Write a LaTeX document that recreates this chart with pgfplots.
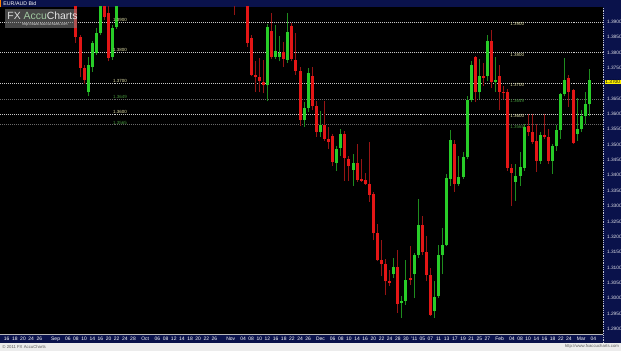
\documentclass[border=0pt]{standalone}
\usepackage{fontspec}
\setmainfont{Liberation Sans}
\usepackage{pgfplots}
\usepackage{pgfplotstable}
\pgfplotsset{compat=1.18}
\definecolor{navy}{RGB}{10,18,75}
\definecolor{strip}{RGB}{236,236,236}
\definecolor{cbodyR}{RGB}{228,22,22}
\definecolor{cwickR}{RGB}{150,20,20}
\definecolor{cbodyG}{RGB}{40,205,40}
\definecolor{cwickG}{RGB}{30,140,30}
\definecolor{lvl}{RGB}{200,200,200}
\definecolor{lvlb}{RGB}{105,105,105}
\definecolor{lbl}{RGB}{230,228,170}
\definecolor{lblg}{RGB}{70,150,60}
\pgfplotstableread{
x O H L C
24 1.3670 1.3787 1.3657 1.3761
25 1.3754 1.3839 1.3738 1.3832
26 1.3800 1.3881 1.3793 1.3864
27 1.3864 1.3997 1.3858 1.3987
30 1.3787 1.3890 1.3777 1.3881
31 1.3884 1.3997 1.3877 1.3987
68 1.3693 1.3894 1.3641 1.3884
70 1.3787 1.3890 1.3780 1.3806
71 1.3787 1.3855 1.3771 1.3800
73 1.3777 1.3929 1.3767 1.3868
77 1.3580 1.3638 1.3557 1.3618
78 1.3618 1.3751 1.3606 1.3732
81 1.3541 1.3609 1.3525 1.3563
85 1.3440 1.3495 1.3415 1.3486
86 1.3489 1.3550 1.3463 1.3534
89 1.3418 1.3470 1.3366 1.3440
99 1.3078 1.3130 1.3065 1.3101
101 1.2984 1.3007 1.2936 1.2991
102 1.2991 1.3123 1.2978 1.3059
104 1.3078 1.3146 1.3000 1.3140
105 1.3140 1.3324 1.3130 1.3237
109 1.2958 1.3055 1.2936 1.3004
110 1.3007 1.3172 1.3000 1.3140
111 1.3140 1.3227 1.3078 1.3172
112 1.3172 1.3405 1.3169 1.3392
113 1.3389 1.3547 1.3366 1.3515
115 1.3372 1.3463 1.3366 1.3395
116 1.3395 1.3476 1.3389 1.3460
117 1.3460 1.3657 1.3453 1.3644
118 1.3644 1.3771 1.3638 1.3761
120 1.3670 1.3780 1.3648 1.3722
122 1.3722 1.3858 1.3706 1.3839
124 1.3703 1.3787 1.3673 1.3709
129 1.3379 1.3437 1.3317 1.3398
130 1.3398 1.3476 1.3366 1.3428
131 1.3424 1.3567 1.3415 1.3557
135 1.3447 1.3541 1.3437 1.3531
138 1.3447 1.3502 1.3405 1.3495
139 1.3495 1.3563 1.3479 1.3547
140 1.3547 1.3667 1.3518 1.3664
141 1.3664 1.3783 1.3657 1.3712
144 1.3534 1.3651 1.3512 1.3550
145 1.3550 1.3612 1.3541 1.3593
146 1.3593 1.3673 1.3567 1.3631
147 1.3631 1.3745 1.3593 1.3709
}\greenc
\pgfplotstableread{
x O H L C
21 1.3987 1.3997 1.3832 1.3851
22 1.3851 1.3858 1.3719 1.3751
23 1.3751 1.3761 1.3699 1.3712
28 1.3987 1.3997 1.3906 1.3916
29 1.3929 1.3955 1.3771 1.3783
60 1.4004 1.4010 1.3923 1.3971
63 1.3965 1.3971 1.3819 1.3832
64 1.3848 1.3858 1.3722 1.3728
65 1.3728 1.3771 1.3673 1.3719
66 1.3719 1.3783 1.3670 1.3706
67 1.3703 1.3777 1.3667 1.3693
69 1.3871 1.3929 1.3780 1.3787
72 1.3803 1.3835 1.3754 1.3780
74 1.3887 1.3897 1.3771 1.3780
75 1.3777 1.3864 1.3728 1.3741
76 1.3741 1.3754 1.3560 1.3580
79 1.3725 1.3754 1.3612 1.3625
80 1.3625 1.3641 1.3525 1.3541
82 1.3563 1.3641 1.3512 1.3518
83 1.3518 1.3557 1.3486 1.3508
84 1.3528 1.3534 1.3431 1.3444
87 1.3534 1.3544 1.3382 1.3457
88 1.3453 1.3463 1.3382 1.3431
90 1.3440 1.3502 1.3379 1.3385
91 1.3389 1.3453 1.3379 1.3382
92 1.3385 1.3408 1.3369 1.3372
93 1.3372 1.3508 1.3314 1.3337
94 1.3340 1.3347 1.3188 1.3211
95 1.3211 1.3240 1.3120 1.3123
96 1.3123 1.3188 1.3072 1.3110
97 1.3110 1.3127 1.3010 1.3055
98 1.3055 1.3091 1.3039 1.3049
100 1.3101 1.3156 1.2952 1.2981
103 1.3065 1.3169 1.3042 1.3059
106 1.3237 1.3269 1.3140 1.3149
107 1.3149 1.3201 1.3055 1.3075
108 1.3075 1.3097 1.2942 1.2945
114 1.3502 1.3515 1.3347 1.3372
119 1.3787 1.3790 1.3638 1.3670
121 1.3725 1.3767 1.3690 1.3716
123 1.3839 1.3874 1.3686 1.3703
125 1.3725 1.3758 1.3612 1.3673
126 1.3673 1.3690 1.3648 1.3670
127 1.3670 1.3680 1.3415 1.3424
128 1.3424 1.3437 1.3301 1.3408
132 1.3560 1.3599 1.3528 1.3541
133 1.3541 1.3599 1.3502 1.3508
134 1.3512 1.3567 1.3411 1.3447
136 1.3531 1.3599 1.3518 1.3525
137 1.3525 1.3550 1.3437 1.3447
142 1.3716 1.3728 1.3622 1.3673
143 1.3677 1.3680 1.3502 1.3505
}\redc
\begin{document}
\begin{tikzpicture}[x=1pt,y=1pt]
\fill[strip] (0,0) rectangle (625,353);
\fill[navy] (0,8) rectangle (625,353);
\fill[orange] (0,346) rectangle (1.2,353);
\node[anchor=west, inner sep=0pt, text=white, font=\fontsize{5.3}{6}\selectfont] at (3,349.6) {EUR/AUD Bid};
\begin{axis}[
  at={(0pt,17pt)}, anchor=south west,
  scale only axis, width=607pt, height=329pt,
  xmin=2.414, xmax=150.43, ymin=1.28838, ymax=1.39485,
  axis background/.style={fill=black},
  axis line style={draw=none},
  major tick length=0pt, tick style={draw=none},
  xtick={4,6,8,10,12,16,19,21,23,25,27,29,31,33,35,38,41,43,45,47,49,51,53,55,59,62,64,66,68,70,72,74,76,78,81,84,86,88,90,92,94,96,98,100,102,104,106,108,110,112,114,116,118,120,122,125,128,130,132,134,136,138,140,142,145,148},
  xticklabels={16,18,20,24,26,Sep,06,08,10,14,16,20,22,24,28,Oct,06,08,12,14,18,20,22,26,Nov,04,08,10,12,16,18,22,24,26,Dec,06,08,10,14,16,20,22,24,28,30,'11,05,07,11,13,17,19,21,25,27,Feb,04,08,10,14,16,18,22,24,Mar,04},
  xticklabel style={font=\fontsize{5}{5}\selectfont, text=white, anchor=base, yshift=-7pt},
  ytick={1.290,1.295,1.300,1.305,1.310,1.315,1.320,1.325,1.330,1.335,1.340,1.345,1.350,1.355,1.360,1.365,1.370,1.375,1.380,1.385,1.390},
  yticklabels={1.2900,1.2950,1.3000,1.3050,1.3100,1.3150,1.3200,1.3250,1.3300,1.3350,1.3400,1.3450,1.3500,1.3550,1.3600,1.3650,,1.3750,1.3800,1.3850,1.3900},
  yticklabel pos=right,
  yticklabel style={font=\fontsize{4.8}{5}\selectfont, text=white!88!navy, anchor=west, xshift=0.3pt},
]
% level lines
\addplot[lvl, line width=0.6pt, dash pattern=on 1pt off 1pt, forget plot] coordinates {(2.414,1.3900) (150.43,1.3900)};
\addplot[lvl, line width=0.6pt, dash pattern=on 1pt off 1pt, forget plot] coordinates {(2.414,1.3800) (150.43,1.3800)};
\addplot[lvl, line width=0.6pt, dash pattern=on 1pt off 1pt, forget plot] coordinates {(2.414,1.3700) (150.43,1.3700)};
\addplot[lvlb, line width=0.6pt, dash pattern=on 1pt off 1pt, forget plot] coordinates {(2.414,1.3649) (150.43,1.3649)};
\addplot[lvl, line width=0.6pt, dash pattern=on 1pt off 1pt, forget plot] coordinates {(2.414,1.3600) (150.43,1.3600)};
\addplot[lvlb, line width=0.6pt, dash pattern=on 1pt off 1pt, forget plot] coordinates {(2.414,1.3565) (150.43,1.3565)};
% wicks
\addplot[draw=none, mark=none, forget plot, error bars/.cd, y dir=plus, y explicit, error mark=none, error bar style={solid, line width=1pt, draw=cwickG}]
  table[x=x, y=L, y error plus expr={\thisrow{H}-\thisrow{L}}] {\greenc};
\addplot[draw=none, mark=none, forget plot, error bars/.cd, y dir=plus, y explicit, error mark=none, error bar style={solid, line width=1pt, draw=cwickR}]
  table[x=x, y=L, y error plus expr={\thisrow{H}-\thisrow{L}}] {\redc};
% bodies
\addplot[draw=none, mark=none, forget plot, error bars/.cd, y dir=plus, y explicit, error mark=none, error bar style={solid, line width=3pt, draw=cbodyG}]
  table[x=x, y=O, y error plus expr={\thisrow{C}-\thisrow{O}}] {\greenc};
\addplot[draw=none, mark=none, forget plot, error bars/.cd, y dir=plus, y explicit, error mark=none, error bar style={solid, line width=3pt, draw=cbodyR}]
  table[x=x, y=C, y error plus expr={\thisrow{O}-\thisrow{C}}] {\redc};
% level labels
\begin{scope}[every node/.style={inner sep=0.4pt, font=\fontsize{4.5}{5}\selectfont}]
\node[anchor=south west, text=lbl] at (axis cs:29.97,1.3900) {1.3900};
\node[anchor=south west, text=lbl] at (axis cs:29.97,1.3800) {1.3800};
\node[anchor=south west, text=lbl] at (axis cs:29.97,1.3700) {1.3700};
\node[anchor=south west, text=lblg] at (axis cs:29.97,1.3649) {1.3649};
\node[anchor=south west, text=lbl] at (axis cs:29.97,1.3600) {1.3600};
\node[anchor=south west, text=lblg] at (axis cs:29.97,1.3565) {1.3565};
\node[anchor=north west, text=lbl] at (axis cs:127.5,1.3900) {1.3900};
\node[anchor=north west, text=lbl] at (axis cs:127.5,1.3800) {1.3800};
\node[anchor=north west, text=lbl] at (axis cs:127.5,1.3700) {1.3700};
\node[anchor=north west, text=lblg] at (axis cs:127.5,1.3649) {1.3649};
\node[anchor=north west, text=lbl] at (axis cs:127.5,1.3600) {1.3600};
\node[anchor=north west, text=lblg] at (axis cs:127.5,1.3565) {1.3565};
\end{scope}
\end{axis}
% logo
\fill[gray, opacity=0.55] (5,325) rectangle (77,344);
\node[anchor=west, inner sep=0pt, font=\fontsize{10.5}{11}\selectfont] at (7,337) {\textcolor{gray!25}{FX} \textcolor[RGB]{160,200,160}{Accu}\textcolor{gray!20}{Charts}};
\node[anchor=west, inner sep=0pt, text=gray!25, font=\fontsize{3.6}{4}\selectfont] at (22,328.6) {http://www.fxaccucharts.com};
% axis frame details
\draw[gray!55, line width=0.5pt] (0,17) -- (607,17);
\draw[white!75!navy, line width=0.6pt, dash pattern=on 0.6pt off 1.2pt] (607.5,8) -- (607.5,346);
\node[anchor=west, fill=yellow, text=black, inner sep=0.6pt, font=\fontsize{4.8}{5}\selectfont] at (608.3,270.3) {1.3700};
% bottom strip
\node[anchor=west, inner sep=0pt, text=gray!70!black, font=\fontsize{4.3}{5}\selectfont] at (2,4) {© 2011 FX AccuCharts};
\node[anchor=east, inner sep=0pt, text=gray!70!black, font=\fontsize{4.3}{5}\selectfont] at (623,4) {http://www.fxaccucharts.com};
\end{tikzpicture}
\end{document}
